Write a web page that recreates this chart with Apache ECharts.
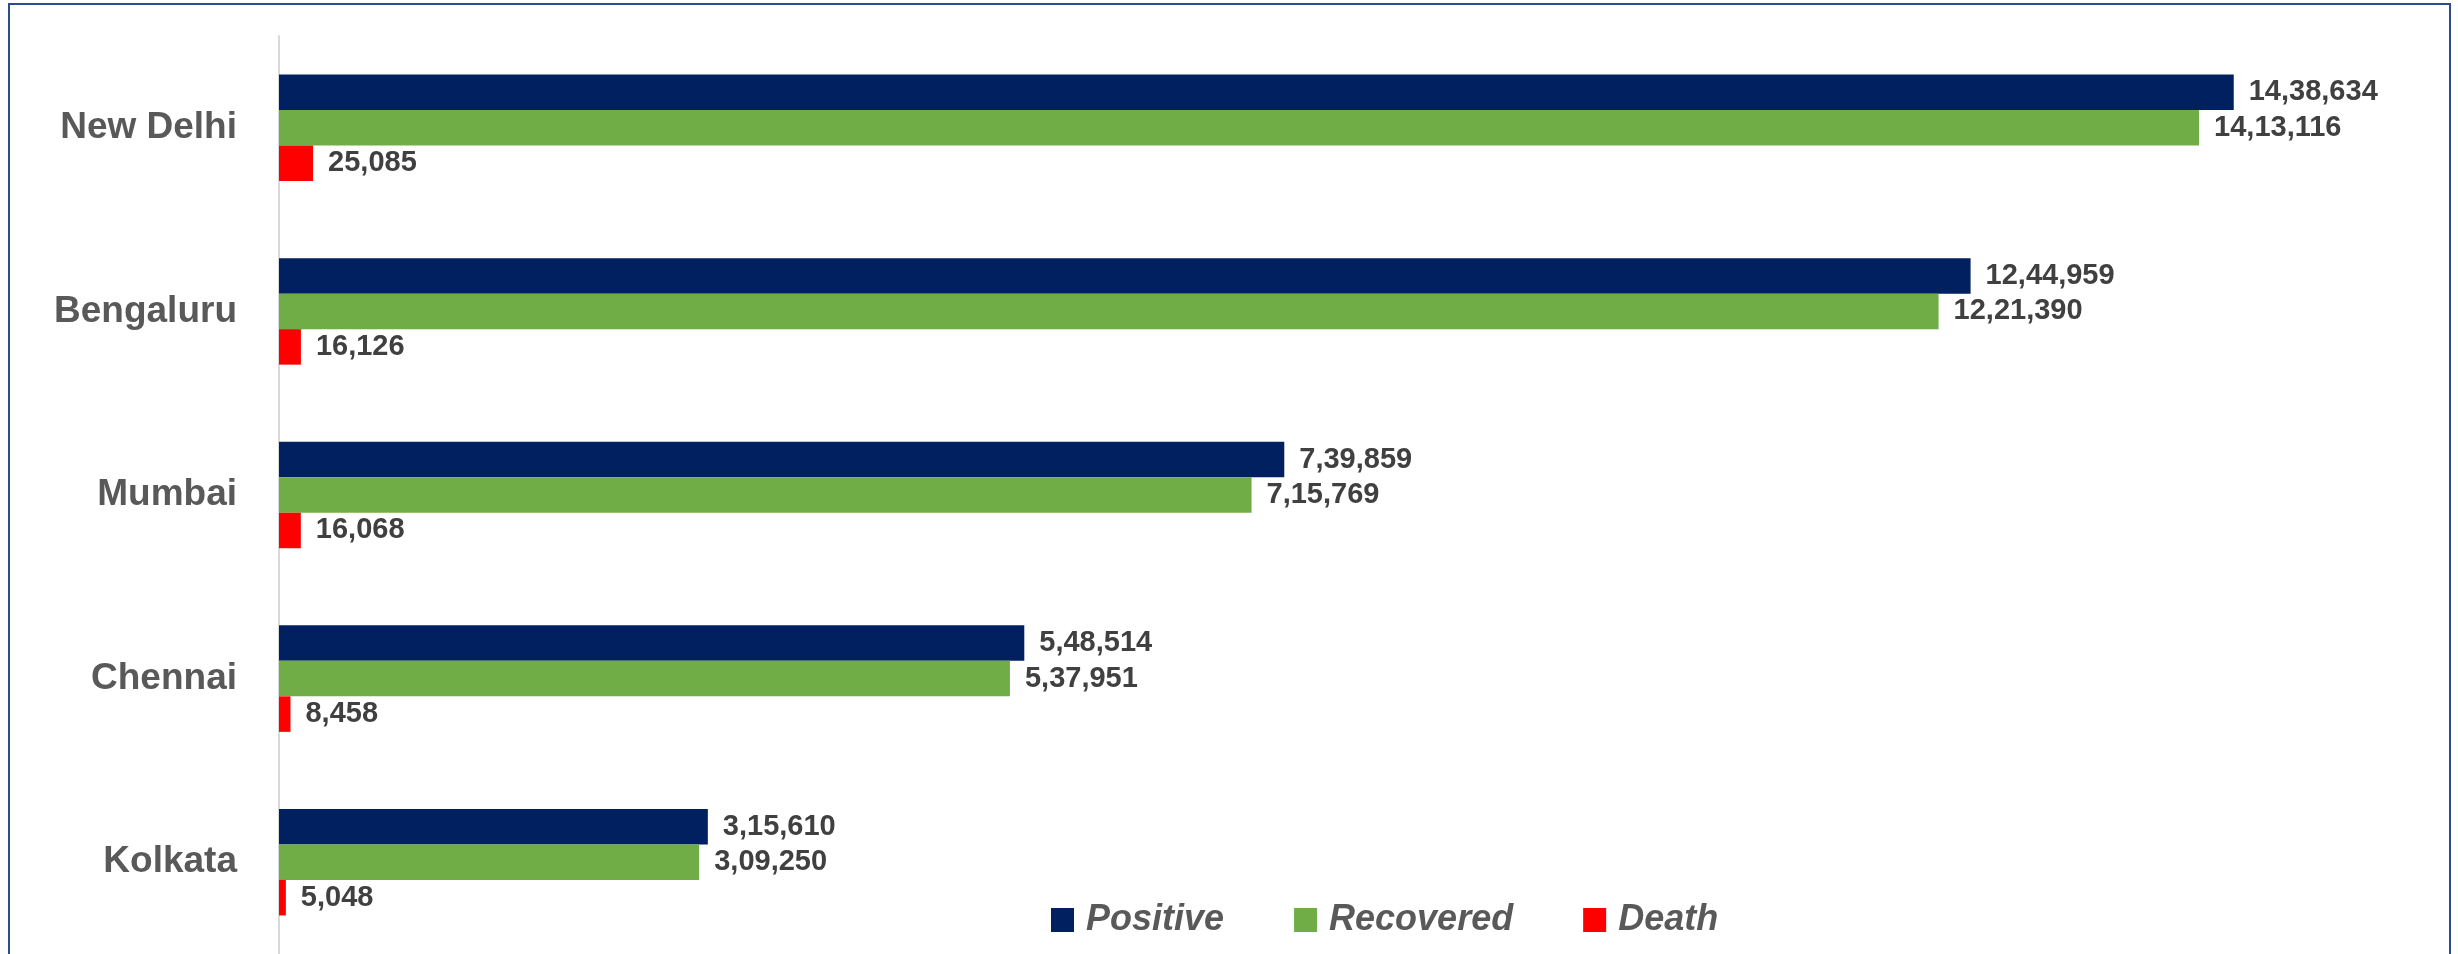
<!DOCTYPE html>
<html>
<head>
<meta charset="utf-8">
<script src="https://cdn.jsdelivr.net/npm/echarts@6/dist/echarts.min.js"></script>
<style>
html,body{margin:0;padding:0;background:#fff;}
#chart{width:2458px;height:954px;}
</style>
</head>
<body>
<div id="chart"></div>
<script>
const cities = ['New Delhi', 'Bengaluru', 'Mumbai', 'Chennai', 'Kolkata'];
const positive = [1438634, 1244959, 739859, 548514, 315610];
const recovered = [1413116, 1221390, 715769, 537951, 309250];
const death = [25085, 16126, 16068, 8458, 5048];
const seriesNames = ['Positive', 'Recovered', 'Death'];

function indianFormat(n) {
  const s = String(Math.round(n));
  if (s.length <= 3) return s;
  const last3 = s.slice(-3);
  let rest = s.slice(0, -3);
  const parts = [];
  while (rest.length > 2) {
    parts.unshift(rest.slice(-2));
    rest = rest.slice(0, -2);
  }
  if (rest.length) parts.unshift(rest);
  return parts.join(',') + ',' + last3;
}

const FONT = '"Liberation Sans", Arial, sans-serif';
const chart = echarts.init(document.getElementById('chart'));

function barSeries(name, data, color) {
  return {
    name: name,
    type: 'bar',
    data: data,
    barGap: '0%',
    barCategoryGap: '42%',
    itemStyle: { color: color },
    label: {
      show: true,
      position: 'right',
      distance: 15,
      formatter: p => indianFormat(p.value),
      color: '#404040',
      fontFamily: FONT,
      fontWeight: 'bold',
      fontSize: 29
    }
  };
}

chart.setOption({
  animation: false,
  backgroundColor: '#ffffff',
  graphic: [{
    type: 'rect',
    shape: { x: 9, y: 4, width: 2441, height: 1000 },
    style: { fill: 'none', stroke: '#2F4B8A', lineWidth: 2 },
    silent: true,
    z: 100
  }],
  grid: { left: 279, right: 5, top: 36, bottom: 0, containLabel: false },
  xAxis: {
    type: 'value',
    min: 0,
    max: 1600000,
    axisLine: { show: false },
    axisTick: { show: false },
    axisLabel: { show: false },
    splitLine: { show: false }
  },
  yAxis: {
    type: 'category',
    data: cities,
    inverse: true,
    axisLine: { show: true, lineStyle: { color: '#d9d9d9', width: 2 } },
    axisTick: { show: false },
    axisLabel: {
      margin: 42,
      color: '#595959',
      fontFamily: FONT,
      fontWeight: 'bold',
      fontSize: 37
    }
  },
  legend: {
    data: seriesNames,
    left: 1046,
    top: 897,
    orient: 'horizontal',
    icon: 'rect',
    itemWidth: 23,
    itemHeight: 24,
    itemGap: 70,
    textStyle: {
      color: '#595959',
      fontFamily: FONT,
      fontWeight: 'bold',
      fontStyle: 'italic',
      fontSize: 36,
      lineHeight: 36,
      padding: [0, 0, 0, 7]
    }
  },
  series: [
    barSeries(seriesNames[0], positive, '#002060'),
    barSeries(seriesNames[1], recovered, '#70AD47'),
    barSeries(seriesNames[2], death, '#FF0000')
  ]
});
</script>
</body>
</html>
